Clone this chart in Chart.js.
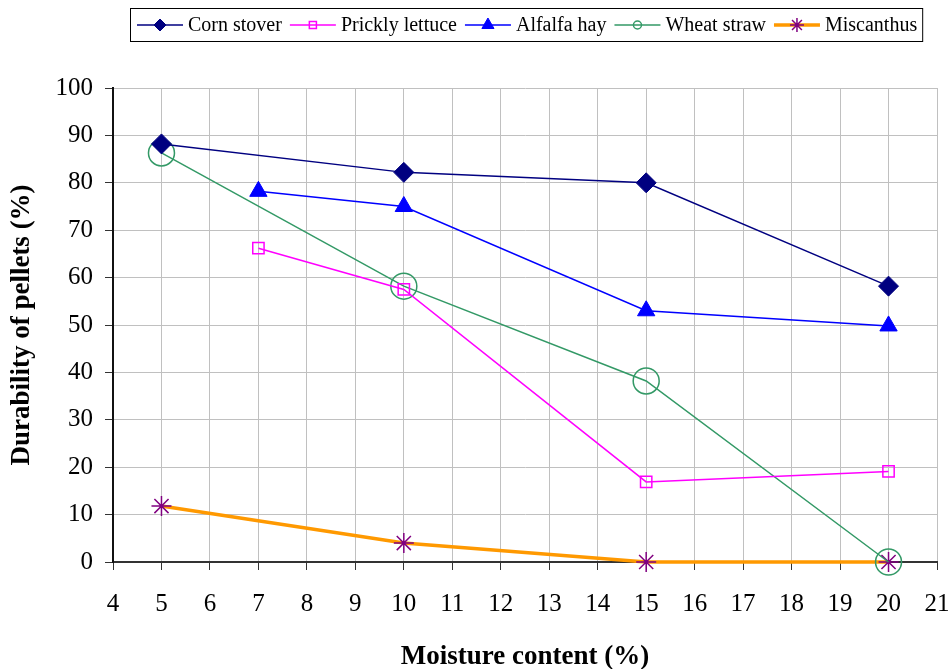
<!DOCTYPE html>
<html>
<head>
<meta charset="utf-8">
<script src="https://cdn.jsdelivr.net/npm/chart.js@4/dist/chart.umd.min.js"></script>
<style>
  html, body { margin: 0; padding: 0; background: #fff; }
  #wrap { width: 952px; height: 669px; }
</style>
</head>
<body>
<div id="wrap"><canvas id="durabilidade"></canvas></div>
<script>
// dados
const serieNomes = ['Corn stover', 'Prickly lettuce', 'Alfalfa hay', 'Wheat straw', 'Miscanthus'];
const cornX = [5, 10, 15, 20];
const cornY = [88.2, 82.2, 80, 58.2];
const lettuceX = [7, 10, 15, 20];
const lettuceY = [66.2, 57.5, 16.9, 19.1];
const alfalfaX = [7, 10, 15, 20];
const alfalfaY = [78.2, 75, 53, 49.8];
const wheatX = [5, 10, 15, 20];
const wheatY = [86.3, 58.2, 38.2, 0];
const miscX = [5, 10, 15, 20];
const miscY = [11.8, 4, 0, 0];
const xTicks = [4, 5, 6, 7, 8, 9, 10, 11, 12, 13, 14, 15, 16, 17, 18, 19, 20, 21];
const yTicks = [0, 10, 20, 30, 40, 50, 60, 70, 80, 90, 100];

function pares(xs, ys) {
  return xs.map((x, i) => ({ x: x, y: ys[i] }));
}

const serif = "'Liberation Serif', 'Times New Roman', serif";
Chart.defaults.font.family = serif;
Chart.defaults.color = '#000';

// legenda desenhada à mão (linha + marcador, com moldura)
const legendaCaixa = {
  id: 'legendaCaixa',
  afterDraw(chart) {
    const ctx = chart.ctx;
    ctx.save();
    ctx.font = '20px ' + serif;
    const lineLen = 46, padL = 7, gapTxt = 5, gapItem = 8;
    let widths = chart.data.datasets.map(ds => ctx.measureText(ds.label).width);
    let total = padL;
    widths.forEach((w, i) => { total += lineLen + gapTxt + w + (i < widths.length - 1 ? gapItem : 5); });
    const left = Math.round(526 - total / 2), top = 8, h = 33;
    ctx.strokeStyle = '#000';
    ctx.lineWidth = 1;
    ctx.strokeRect(left + 0.5, top + 0.5, total, h);
    let x = left + padL;
    const cy = top + h / 2 + 0.5;
    chart.data.datasets.forEach((ds, i) => {
      ctx.strokeStyle = ds.borderColor;
      ctx.lineWidth = ds.borderWidth;
      ctx.beginPath();
      ctx.moveTo(x, cy);
      ctx.lineTo(x + lineLen, cy);
      ctx.stroke();
      const opts = {
        pointStyle: ds.pointStyle,
        radius: ds.legendRadius,
        rotation: 0,
        borderWidth: ds.pointBorderWidth
      };
      ctx.fillStyle = ds.pointBackgroundColor;
      ctx.strokeStyle = ds.pointBorderColor;
      ctx.lineWidth = ds.pointBorderWidth;
      Chart.helpers.drawPoint(ctx, opts, x + lineLen / 2, cy);
      ctx.fillStyle = '#000';
      ctx.textBaseline = 'middle';
      ctx.textAlign = 'left';
      ctx.fillText(ds.label, x + lineLen + gapTxt, cy + 1);
      x += lineLen + gapTxt + widths[i] + gapItem;
    });
    ctx.restore();
  }
};

const canvas = document.getElementById('durabilidade');
new Chart(canvas, {
  type: 'line',
  data: {
    datasets: [
      {
        label: serieNomes[0],
        data: pares(cornX, cornY),
        borderColor: '#000080',
        borderWidth: 1.5,
        pointStyle: 'rectRot',
        pointRadius: 10,
        legendRadius: 6,
        pointBackgroundColor: '#000080',
        pointBorderColor: '#000080',
        pointBorderWidth: 1,
        clip: false
      },
      {
        label: serieNomes[1],
        data: pares(lettuceX, lettuceY),
        borderColor: '#FF00FF',
        borderWidth: 1.5,
        pointStyle: 'rect',
        pointRadius: 8,
        legendRadius: 5,
        pointBackgroundColor: 'rgba(255,255,255,0)',
        pointBorderColor: '#FF00FF',
        pointBorderWidth: 1.5,
        clip: false
      },
      {
        label: serieNomes[2],
        data: pares(alfalfaX, alfalfaY),
        borderColor: '#0000FF',
        borderWidth: 1.5,
        pointStyle: 'triangle',
        pointRadius: 10,
        legendRadius: 7,
        pointBackgroundColor: '#0000FF',
        pointBorderColor: '#0000FF',
        pointBorderWidth: 1,
        clip: false
      },
      {
        label: serieNomes[3],
        data: pares(wheatX, wheatY),
        borderColor: '#339966',
        borderWidth: 1.5,
        pointStyle: 'circle',
        pointRadius: 13,
        legendRadius: 4,
        pointBackgroundColor: 'rgba(255,255,255,0)',
        pointBorderColor: '#339966',
        pointBorderWidth: 1.5,
        clip: false
      },
      {
        label: serieNomes[4],
        data: pares(miscX, miscY),
        borderColor: '#FF9900',
        borderWidth: 3.5,
        pointStyle: 'star',
        pointRadius: 10,
        legendRadius: 7,
        pointBackgroundColor: '#800080',
        pointBorderColor: '#800080',
        pointBorderWidth: 1.5,
        clip: false
      }
    ]
  },
  options: {
    responsive: true,
    maintainAspectRatio: false,
    animation: false,
    layout: { padding: { top: 88, right: 15, left: 0, bottom: 0 } },
    plugins: {
      legend: { display: false },
      tooltip: { enabled: false }
    },
    scales: {
      x: {
        type: 'linear',
        min: 4,
        max: 21,
        afterBuildTicks: s => { s.ticks = xTicks.map(v => ({ value: v })); },
        afterFit: s => { s.height = 107; s.paddingRight = 0; s.paddingLeft = 0; },
        ticks: { font: { size: 25 }, padding: 19, color: '#000' },
        grid: { color: '#c0c0c0', tickColor: '#333', tickLength: 8, lineWidth: 1 },
        border: { color: '#333', width: 2 },
        title: {
          display: true,
          text: 'Moisture content (%)',
          font: { size: 27, weight: 'bold', lineHeight: 0.9 },
          padding: { top: 0, bottom: 0 }
        }
      },
      y: {
        min: 0,
        max: 100,
        afterBuildTicks: s => { s.ticks = yTicks.map(v => ({ value: v })); },
        afterFit: s => { s.width = 113; },
        ticks: { font: { size: 25 }, padding: 12, color: '#000' },
        grid: { color: '#c0c0c0', tickColor: '#333', tickLength: 8, lineWidth: 1 },
        border: { color: '#111', width: 2 },
        title: {
          display: true,
          text: 'Durability of pellets (%)',
          font: { size: 27, weight: 'bold' },
          padding: { top: 6, bottom: 0 }
        }
      }
    }
  },
  plugins: [legendaCaixa]
});
</script>
</body>
</html>
